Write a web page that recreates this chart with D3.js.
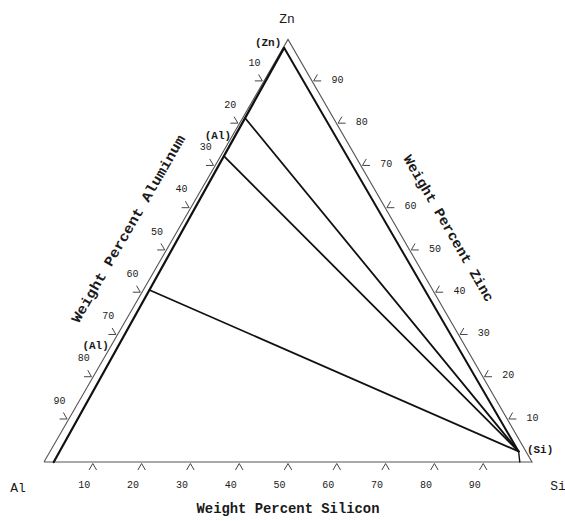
<!DOCTYPE html>
<html>
<head>
<meta charset="utf-8">
<script src="https://cdn.jsdelivr.net/npm/d3@7/dist/d3.min.js"></script>
<style>
  html, body { margin: 0; padding: 0; background: #fff; }
  svg { display: block; }
  text { font-family: "Liberation Mono", "DejaVu Sans Mono", monospace; fill: #1a1a1a; }
</style>
</head>
<body>
<svg id="chart" width="565" height="521"></svg>
<script>
// ---------- data (weight percent) ----------
const vertexNames = ["Al", "Si", "Zn"];
const tickValues = [10, 20, 30, 40, 50, 60, 70, 80, 90];
const axisTitles = ["Weight Percent Silicon", "Weight Percent Zinc", "Weight Percent Aluminum"];

// boundary of the (Al) field along the Al-Zn side: [Si, Zn]
const alBoundarySi = [2.0, 0.2];
const alBoundaryZn = [0.0, 98.0];
// (Zn) -> (Si) line: [Si, Zn]
const znSiLineSi = [0.2, 96.0];
const znSiLineZn = [98.0, 2.5];
// tie lines: (Al) end compositions, all running to the (Si) point
const tieAlSi = [0.50, 0.67, 1.25];
const tieAlZn = [81.4, 72.4, 40.7];
const siPointSi = 96.0, siPointZn = 2.5;
// (Si) field edge down to the Al-Si side
const siEdgeSi = [96.0, 97.5];
const siEdgeZn = [2.5, 0.0];
// phase labels and the composition they sit next to
const phaseNames = ["(Zn)", "(Al)", "(Al)", "(Si)"];
const phaseSi = [0.2, 0.67, 1.5, 96.0];
const phaseZn = [98.0, 72.4, 28.0, 2.5];

// ---------- scales ----------
const svg = d3.select("#chart");
const X = d3.scaleLinear().domain([0, 100]).range([44, 532]);   // Si + Zn/2
const Y = d3.scaleLinear().domain([0, 100]).range([462, 39.4]); // Zn
const px = (si, zn) => X(si + zn / 2);
const py = (zn) => Y(zn);
const line = d3.line().x(d => px(d[0], d[1])).y(d => py(d[1]));

const A = [px(0, 0), py(0)], S = [px(100, 0), py(0)], Z = [px(0, 100), py(100)];

// ---------- outer triangle ----------
svg.append("path")
  .attr("d", line([[0, 0], [100, 0], [0, 100], [0, 0]]))
  .attr("fill", "none").attr("stroke", "#555").attr("stroke-width", 1.1)
  .attr("stroke-linejoin", "miter");

// ---------- phase lines ----------
const thick = (pts, w) => svg.append("path").attr("d", line(pts))
  .attr("fill", "none").attr("stroke", "#111").attr("stroke-width", w).attr("stroke-linecap", "round");

thick(alBoundarySi.map((s, i) => [s, alBoundaryZn[i]]), 2.2);
thick(znSiLineSi.map((s, i) => [s, znSiLineZn[i]]), 2.0);
tieAlSi.forEach((s, i) => thick([[s, tieAlZn[i]], [siPointSi, siPointZn]], 1.8));
thick(siEdgeSi.map((s, i) => [s, siEdgeZn[i]]), 1.4);

// ---------- ticks ----------
const r3 = Math.sqrt(3) / 2;
const edges = [
  { pt: v => [v, 0], n: [0, 1], lab: [-8.5, 22] },            // bottom: Si
  { pt: v => [100 - v, v], n: [r3, -0.5], lab: [25, -2.5] },   // right: Zn
  { pt: v => [0, 100 - v], n: [-r3, -0.5], lab: [-9, -19.5] }  // left: Al
];
const rot = (v, deg) => {
  const a = deg * Math.PI / 180;
  return [v[0] * Math.cos(a) - v[1] * Math.sin(a), v[0] * Math.sin(a) + v[1] * Math.cos(a)];
};
const armLen = 7.5, gap = 1.5;
edges.forEach(e => {
  tickValues.forEach(v => {
    const c = e.pt(v);
    const x0 = px(c[0], c[1]) + e.n[0] * gap, y0 = py(c[1]) + e.n[1] * gap;
    const a1 = rot(e.n, 30), a2 = rot(e.n, -30);
    svg.append("path")
      .attr("d", `M${x0 + a1[0] * armLen},${y0 + a1[1] * armLen}L${x0},${y0}L${x0 + a2[0] * armLen},${y0 + a2[1] * armLen}`)
      .attr("fill", "none").attr("stroke", "#444").attr("stroke-width", 1);
    svg.append("text")
      .attr("x", px(c[0], c[1]) + e.lab[0])
      .attr("y", py(c[1]) + e.lab[1])
      .attr("dy", "0.35em")
      .attr("text-anchor", "middle")
      .attr("font-size", 10)
      .text(v);
  });
});

// ---------- axis titles ----------
svg.append("text")
  .attr("x", (A[0] + S[0]) / 2).attr("y", 508).attr("dy", "0.35em")
  .attr("text-anchor", "middle").attr("font-size", 14).attr("font-weight", "bold")
  .attr("textLength", 183).attr("lengthAdjust", "spacingAndGlyphs")
  .text(axisTitles[0]);

const rm = [(S[0] + Z[0]) / 2 + r3 * 45, (S[1] + Z[1]) / 2 - 0.5 * 45];
svg.append("text")
  .attr("transform", `translate(${rm[0]},${rm[1]}) rotate(60)`)
  .attr("dy", "0.35em").attr("text-anchor", "middle")
  .attr("font-size", 14).attr("font-weight", "bold")
  .attr("textLength", 167).attr("lengthAdjust", "spacingAndGlyphs")
  .text(axisTitles[1]);

const lm = [(A[0] + Z[0]) / 2 - r3 * 44, (A[1] + Z[1]) / 2 - 0.5 * 44];
svg.append("text")
  .attr("transform", `translate(${lm[0]},${lm[1]}) rotate(-60)`)
  .attr("dy", "0.35em").attr("text-anchor", "middle")
  .attr("font-size", 14).attr("font-weight", "bold")
  .attr("textLength", 214).attr("lengthAdjust", "spacingAndGlyphs")
  .text(axisTitles[2]);

// ---------- vertex labels ----------
const vOff = [[-26, 25], [26, 23], [-1, -21]];
[A, S, Z].forEach((p, i) => {
  svg.append("text")
    .attr("x", p[0] + vOff[i][0]).attr("y", p[1] + vOff[i][1]).attr("dy", "0.35em")
    .attr("text-anchor", "middle").attr("font-size", 13)
    .text(vertexNames[i]);
});

// ---------- phase labels ----------
const pOff = [[-16, -6], [-6, -21], [-24, 1], [21.5, -2]];
phaseNames.forEach((t, i) => {
  svg.append("text")
    .attr("x", px(phaseSi[i], phaseZn[i]) + pOff[i][0])
    .attr("y", py(phaseZn[i]) + pOff[i][1]).attr("dy", "0.35em")
    .attr("text-anchor", "middle").attr("font-size", 11).attr("font-weight", "bold")
    .text(t);
});
</script>
</body>
</html>
